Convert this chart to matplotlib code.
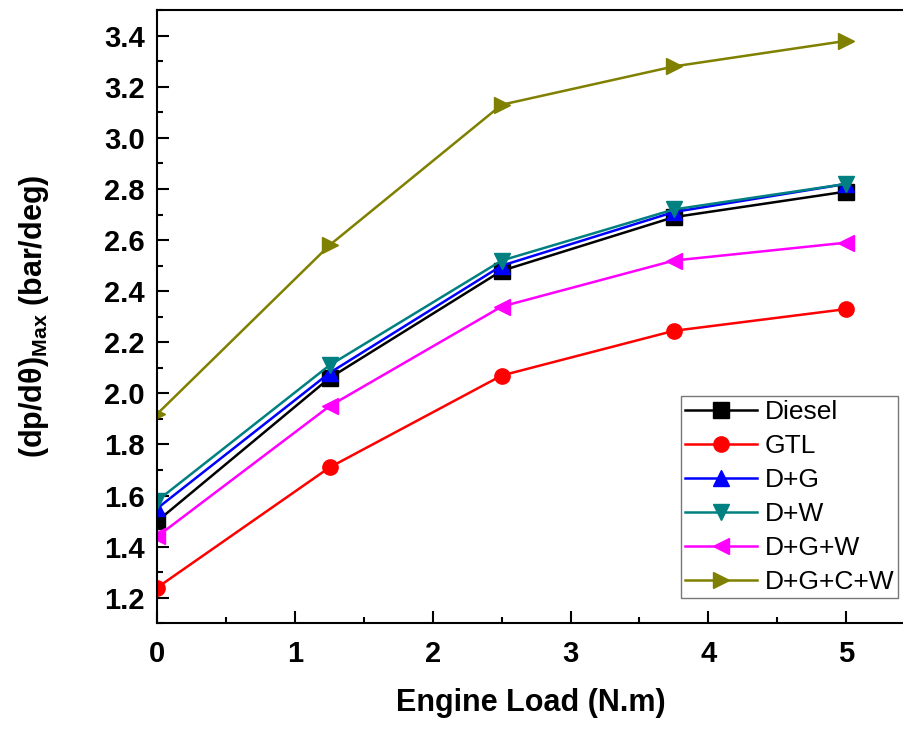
import matplotlib
matplotlib.use("Agg")
import matplotlib.pyplot as plt
from matplotlib.ticker import MultipleLocator, FormatStrFormatter

plt.rcParams["font.family"] = ["Liberation Sans", "DejaVu Sans"]
plt.rcParams["mathtext.fontset"] = "custom"
plt.rcParams["mathtext.bf"] = "Liberation Sans:bold"
plt.rcParams["mathtext.rm"] = "Liberation Sans"

# engine load (N.m)
loads = [0, 1.25, 2.5, 3.75, 5]

diesel = [1.50, 2.06, 2.48, 2.69, 2.79]
gtl = [1.24, 1.71, 2.07, 2.245, 2.33]
d_g = [1.55, 2.08, 2.50, 2.71, 2.82]
d_w = [1.58, 2.11, 2.52, 2.72, 2.82]
d_g_w = [1.44, 1.95, 2.34, 2.52, 2.59]
d_g_c_w = [1.92, 2.58, 3.13, 3.28, 3.38]

series = [
    ("Diesel", diesel, "black", "s"),
    ("GTL", gtl, "red", "o"),
    ("D+G", d_g, "blue", "^"),
    ("D+W", d_w, "#008080", "v"),
    ("D+G+W", d_g_w, "magenta", "<"),
    ("D+G+C+W", d_g_c_w, "#808000", ">"),
]

fig = plt.figure(figsize=(9.04, 7.29), dpi=100)
ax = fig.add_axes([0.174, 0.145, 0.826, 0.841])

for name, vals, col, mk in series:
    ax.plot(loads, vals, color=col, marker=mk, markersize=11, linewidth=1.8, label=name)

ax.set_xlim(0, 5.42)
ax.set_ylim(1.1, 3.5)
ax.xaxis.set_major_locator(MultipleLocator(1))
ax.xaxis.set_minor_locator(MultipleLocator(0.5))
ax.yaxis.set_major_locator(MultipleLocator(0.2))
ax.yaxis.set_minor_locator(MultipleLocator(0.1))
ax.yaxis.set_major_formatter(FormatStrFormatter("%.1f"))
ax.tick_params(which="both", direction="in", width=1.5)
ax.tick_params(which="major", length=8.5, labelsize=21)
ax.tick_params(which="minor", length=4.5)
ax.tick_params(axis="x", pad=12)
ax.tick_params(axis="y", pad=9)
for lab in ax.get_xticklabels() + ax.get_yticklabels():
    lab.set_fontweight("bold")
for s in ax.spines.values():
    s.set_linewidth(1.5)
ax.spines["right"].set_visible(False)

ax.set_xlabel("Engine Load (N.m)", fontsize=22, fontweight="bold")
ax.set_ylabel(r"(dp/dθ)$_{\mathbf{Max}}$ (bar/deg)", fontsize=22, fontweight="bold")
ax.xaxis.set_label_coords(0.5, -0.105)
ax.yaxis.set_label_coords(-0.143, 0.5)

leg = ax.legend(loc="lower right", bbox_to_anchor=(0.992, 0.041), borderaxespad=0,
                fontsize=19, frameon=True, fancybox=False, edgecolor="#555555",
                handlelength=2.7, borderpad=0.15, labelspacing=0.38, handletextpad=0.3)
leg.get_frame().set_linewidth(1.0)

fig.savefig("out.png", dpi=100)
